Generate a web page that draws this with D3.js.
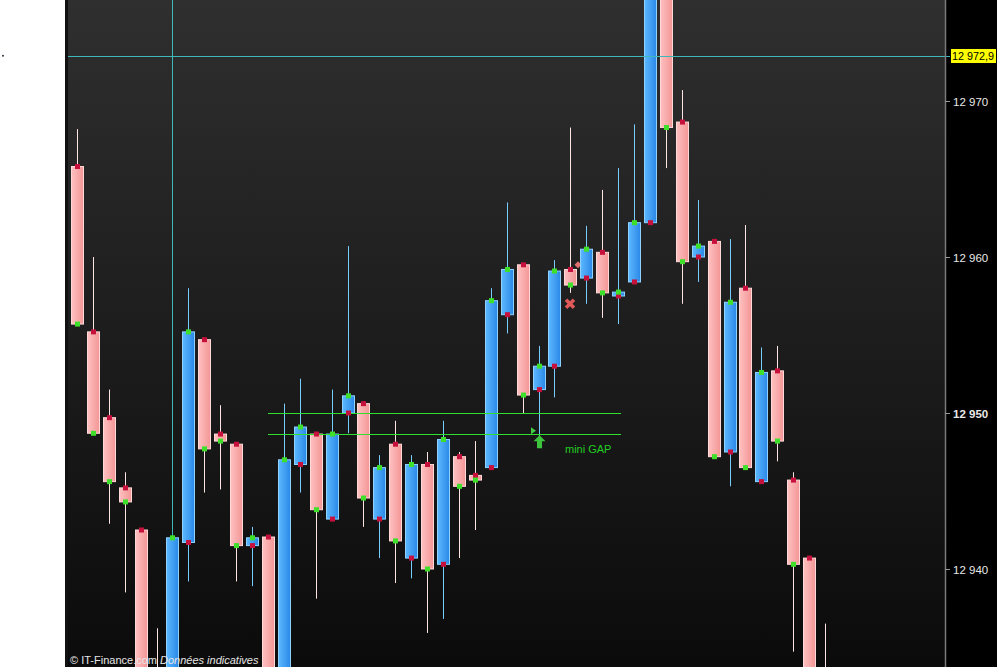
<!DOCTYPE html>
<html><head><meta charset="utf-8">
<script src="https://cdn.jsdelivr.net/npm/d3@7"></script>
<style>html,body{margin:0;padding:0;background:#fff;overflow:hidden}svg{display:block}</style>
</head><body>
<script>
// ---- data ----
const idx    = d3.range(1, 49);
const opens  = [12965.8,12955.2,12949.7,12945.2,12942.5,12932.0,12930.0,12941.7,12954.7,12948.65,12948.0,12941.5,12942.05,12932.0,12946.7,12948.65,12943.2,12950.0,12950.6,12943.2,12948.0,12940.7,12946.7,12940.3,12947.2,12946.0,12946.5,12956.3,12959.5,12951.5,12953.0,12959.2,12958.65,12960.3,12957.5,12958.4,12962.2,12979.0,12968.65,12960.0,12961.0,12947.5,12958.0,12945.6,12952.7,12945.7,12940.7,12930.0];
const highs  = [12968.2,12960.0,12951.5,12946.2,12942.6,12936.2,12942.0,12958.0,12954.8,12950.5,12948.1,12942.7,12942.1,12950.6,12952.2,12948.7,12951.5,12960.7,12950.7,12947.3,12949.5,12947.3,12947.5,12949.5,12947.5,12948.2,12958.0,12963.5,12959.6,12954.3,12959.8,12968.3,12962.0,12964.3,12965.7,12968.5,12980.0,12980.0,12970.7,12963.65,12961.1,12961.15,12962.05,12954.2,12954.3,12946.2,12940.8,12936.5];
const lows   = [12955.6,12948.6,12942.9,12938.5,12929.0,12925.0,12928.0,12939.2,12944.9,12945.1,12939.2,12938.9,12930.0,12931.0,12944.9,12938.1,12943.2,12948.7,12942.7,12940.7,12939.1,12939.4,12935.9,12936.8,12940.7,12942.5,12946.5,12955.1,12950.0,12948.5,12951.0,12957.7,12957.0,12956.1,12955.7,12958.4,12962.2,12965.7,12957.0,12958.4,12947.2,12945.3,12946.5,12945.6,12946.9,12934.7,12925.0,12920.0];
const closes = [12955.7,12948.7,12945.6,12944.3,12931.0,12929.0,12942.0,12955.2,12947.7,12948.2,12941.5,12942.0,12932.0,12947.0,12949.1,12943.8,12948.65,12951.1,12944.55,12946.5,12941.8,12946.7,12940.0,12948.3,12945.3,12945.7,12957.2,12959.2,12951.15,12953.0,12959.1,12958.2,12960.5,12957.7,12957.75,12962.2,12979.0,12968.3,12959.7,12960.7,12947.2,12957.1,12946.5,12952.6,12948.2,12940.3,12930.0,12925.0];
const yTicks = [12970, 12960, 12950, 12940];
const yTickLabels = ["12 970", "12 960", "12 950", "12 940"];
const crossValue = 12972.9, crossLabel = "12 972,9", crossIndex = 7;
const gapLevels = [12950.0, 12948.65], gapFrom = 13, gapTo = 35.2;
const gapText = "mini GAP";
const signalIndex = 30, signalValue = 12948.9;
const xMarkIndex = 32, xMarkValue = 12957.0, diamondValue = 12959.5;

const W = 997, H = 667;
const plotL = 68, plotR = 945;
const FONT = "Arial, 'Liberation Sans', sans-serif";
const x = d3.scaleLinear().domain([1, 48]).range([77, 825]);
const y = d3.scaleLinear().domain([12970, 12940]).range([101, 569]);

const svg = d3.select("body").append("svg").attr("width", W).attr("height", H);
const defs = svg.append("defs");
const bg = defs.append("linearGradient").attr("id","bg").attr("x1",0).attr("y1",0).attr("x2",0).attr("y2",1);
bg.append("stop").attr("offset","0%").attr("stop-color","#2f2f2f");
bg.append("stop").attr("offset","100%").attr("stop-color","#0b0b0b");
const gp = defs.append("linearGradient").attr("id","gpink").attr("x1",0).attr("x2",1).attr("y1",0).attr("y2",0);
gp.append("stop").attr("offset","0%").attr("stop-color","#ffc0c0");
gp.append("stop").attr("offset","100%").attr("stop-color","#f39696");
const gb = defs.append("linearGradient").attr("id","gblue").attr("x1",0).attr("x2",1).attr("y1",0).attr("y2",0);
gb.append("stop").attr("offset","0%").attr("stop-color","#5cb8ff");
gb.append("stop").attr("offset","100%").attr("stop-color","#2a88e6");
defs.append("clipPath").attr("id","clip").append("rect").attr("x",plotL).attr("y",0).attr("width",plotR-plotL).attr("height",H);

// backgrounds
svg.append("rect").attr("x",0).attr("y",0).attr("width",W).attr("height",H).attr("fill","#fff");
svg.append("rect").attr("x",plotL).attr("y",0).attr("width",plotR-plotL).attr("height",H).attr("fill","url(#bg)");
svg.append("rect").attr("x",plotR).attr("y",0).attr("width",W-plotR).attr("height",H).attr("fill","#000");
svg.append("rect").attr("x",65).attr("y",0).attr("width",3).attr("height",H).attr("fill","#111");
svg.append("circle").attr("cx",3).attr("cy",y(crossValue)).attr("r",1).attr("fill","#334");

const plot = svg.append("g").attr("clip-path","url(#clip)");

// crosshair
plot.append("line").attr("x1",x(crossIndex)+0.5).attr("x2",x(crossIndex)+0.5).attr("y1",0).attr("y2",H)
  .attr("stroke","#3fb8b8").attr("stroke-width",1).attr("shape-rendering","crispEdges");
svg.append("line").attr("x1",plotL).attr("x2",950).attr("y1",Math.round(y(crossValue))+0.5).attr("y2",Math.round(y(crossValue))+0.5)
  .attr("stroke","#3fb8b8").attr("stroke-width",1).attr("shape-rendering","crispEdges");

const candles = idx.map((i,k)=>({i, o:opens[k], h:highs[k], l:lows[k], c:closes[k], up: closes[k] >= opens[k]}));

const bw = 12;
const cg = plot.append("g");
// wicks
cg.selectAll("line.wick").data(candles).join("line").attr("class","wick")
  .attr("x1",d=>Math.round(x(d.i))+0.5).attr("x2",d=>Math.round(x(d.i))+0.5)
  .attr("y1",d=>y(d.h)).attr("y2",d=>y(d.l))
  .attr("stroke",d=>d.up ? "#78ccff" : "#ffe4e4").attr("stroke-width",1);
// bodies
cg.selectAll("rect.body").data(candles).join("rect").attr("class","body")
  .attr("x",d=>Math.round(x(d.i))-bw/2+0.5)
  .attr("y",d=>y(Math.max(d.o,d.c)))
  .attr("width",bw)
  .attr("height",d=>Math.max(2, Math.abs(y(d.o)-y(d.c))))
  .attr("fill",d=>d.up ? "url(#gblue)" : "url(#gpink)")
  .attr("stroke",d=>d.up ? "#8fd2ff" : "#ffd8d8").attr("stroke-width",1);

// gap lines (drawn over candles) as 1px filled rects
plot.append("g").selectAll("rect").data(gapLevels).join("rect")
  .attr("x",x(gapFrom)).attr("width",x(gapTo)-x(gapFrom))
  .attr("y",d=>Math.round(y(d))).attr("height",1)
  .attr("fill","#2fe02f").attr("shape-rendering","crispEdges");

// open markers (red) and close markers (green)
const mg = plot.append("g");
mg.selectAll("rect.om").data(candles).join("rect").attr("class","om")
  .attr("x",d=>Math.round(x(d.i))-2).attr("y",d=>y(d.o)-2.5).attr("width",5).attr("height",5)
  .attr("fill","#c8103c");
mg.selectAll("rect.cm").data(candles).join("rect").attr("class","cm")
  .attr("x",d=>Math.round(x(d.i))-2).attr("y",d=>y(d.c)-2.5).attr("width",5).attr("height",5)
  .attr("fill","#3ee02a");

// signals
const sx = Math.round(x(signalIndex));
plot.append("path").attr("d",`M${sx-8},${y(signalValue)-3} l5,3.5 l-5,3.5 z`).attr("fill","#44cc44");
plot.append("path").attr("d",`M${sx+0.5},${y(signalValue)+5} l6,6 h-3.5 v7 h-5 v-7 h-3.5 z`).attr("fill","#3cc43c");
plot.append("text").attr("x",sx+26).attr("y",y(signalValue)+23).text(gapText)
  .attr("fill","#22cc22").attr("font-family",FONT).attr("font-size",11);
const xm = Math.round(x(xMarkIndex)), ym = y(xMarkValue);
plot.append("path").attr("d",`M${xm-4},${ym-4} L${xm+4},${ym+4} M${xm+4},${ym-4} L${xm-4},${ym+4}`)
  .attr("stroke","#e05a5a").attr("stroke-width",3.5);
// diamond (behind candles)
plot.insert("path","g").attr("d",`M${xm+8},${y(diamondValue)-3.5} l3.5,3.5 l-3.5,3.5 l-3.5,-3.5 z`).attr("fill","#e07070");

// right axis
svg.append("line").attr("x1",plotR+0.5).attr("x2",plotR+0.5).attr("y1",0).attr("y2",H).attr("stroke","#7a7a7a").attr("stroke-width",1.5);
const ax = svg.append("g");
yTicks.forEach((v,k)=>{
  const yy = Math.round(y(v))+0.5;
  ax.append("line").attr("x1",plotR).attr("x2",plotR+5).attr("y1",yy).attr("y2",yy).attr("stroke","#9a9a9a");
  ax.append("text").attr("x",plotR+8).attr("y",yy+4).text(yTickLabels[k])
    .attr("fill","#e8e8e8").attr("font-family",FONT).attr("font-size",11.5)
    .attr("font-weight", v===12950 ? "bold" : "normal");
});
const cy = Math.round(y(crossValue));
svg.append("rect").attr("x",951).attr("y",cy-7).attr("width",45).attr("height",14).attr("fill","#ffff00");
svg.append("text").attr("x",952).attr("y",cy+4).text(crossLabel)
  .attr("fill","#000").attr("font-family",FONT).attr("font-size",11)
  .attr("textLength",42).attr("lengthAdjust","spacingAndGlyphs");

// credits
const t = svg.append("text").attr("x",70).attr("y",664).attr("fill","#e6e6e6")
  .attr("font-family",FONT).attr("font-size",11);
t.append("tspan").text("© IT-Finance.com ");
t.append("tspan").attr("font-style","italic").text("Données indicatives");
</script>
</body></html>
